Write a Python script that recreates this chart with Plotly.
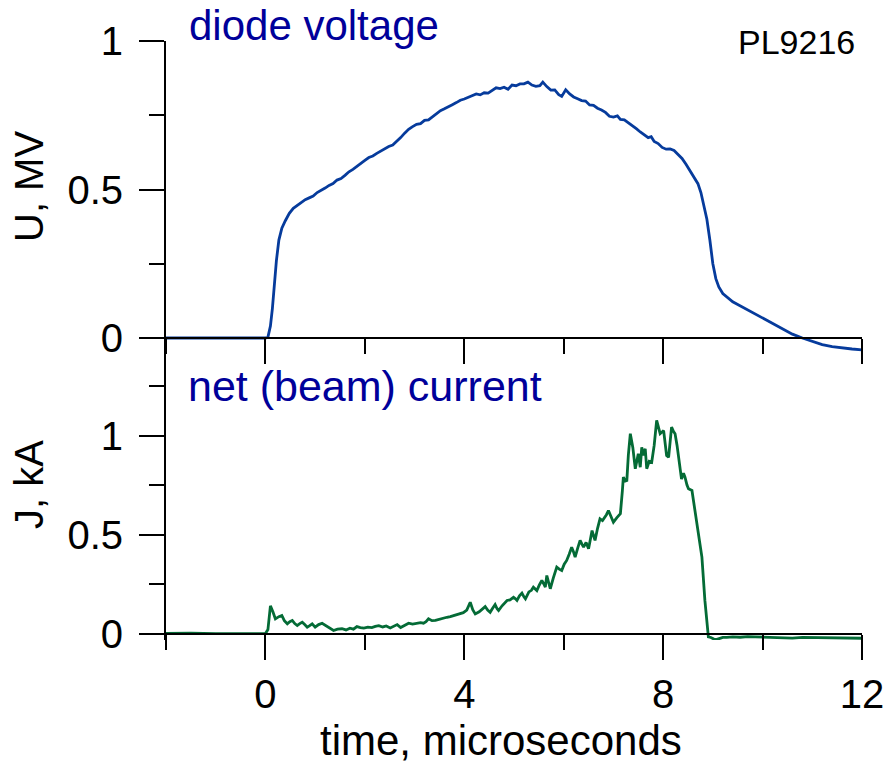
import plotly.graph_objects as go

# ---- data ----
t_u = [-2.0, -1.0, 0.0, 0.05, 0.10, 0.14, 0.18, 0.22, 0.27, 0.33, 0.40, 0.48, 0.56, 0.64, 0.72,
       0.80, 0.88, 0.96, 1.04, 1.12, 1.20, 1.28, 1.36, 1.44, 1.52, 1.60, 1.68, 1.76, 1.84, 1.92,
       2.00, 2.08, 2.16, 2.24, 2.32, 2.40, 2.48, 2.56, 2.64, 2.72, 2.80, 2.88, 2.96, 3.04, 3.12,
       3.20, 3.28, 3.36, 3.44, 3.52, 3.60, 3.68, 3.76, 3.84, 3.92, 4.00, 4.08, 4.16, 4.24, 4.32,
       4.40, 4.48, 4.56, 4.64, 4.72, 4.80, 4.88, 4.96, 5.04, 5.12, 5.20, 5.28, 5.36, 5.44, 5.52,
       5.58, 5.66, 5.74, 5.82, 5.90, 5.96, 6.04, 6.12, 6.20, 6.28, 6.36, 6.44, 6.52, 6.60, 6.68,
       6.76, 6.84, 6.92, 7.00, 7.08, 7.14, 7.22, 7.30, 7.38, 7.46, 7.54, 7.62, 7.70, 7.76, 7.82,
       7.90, 7.98, 8.06, 8.14, 8.22, 8.30, 8.38, 8.46, 8.54, 8.62, 8.70, 8.76, 8.82, 8.88, 8.94,
       9.00, 9.06, 9.12, 9.20, 9.30, 9.40, 9.50, 9.60, 9.75, 9.90, 10.05, 10.20, 10.40, 10.60,
       10.80, 11.00, 11.20, 11.40, 11.60, 11.80, 12.00]
u_mv = [0.0, 0.0, 0.0, 0.003, 0.04, 0.10, 0.18, 0.26, 0.33, 0.37, 0.395, 0.42, 0.437, 0.447, 0.455,
        0.466, 0.472, 0.478, 0.490, 0.497, 0.505, 0.514, 0.520, 0.532, 0.537, 0.548, 0.560, 0.568, 0.579, 0.590,
        0.598, 0.608, 0.613, 0.622, 0.630, 0.638, 0.645, 0.650, 0.662, 0.675, 0.690, 0.703, 0.712, 0.720, 0.722,
        0.733, 0.735, 0.745, 0.757, 0.766, 0.772, 0.780, 0.786, 0.793, 0.801, 0.805, 0.811, 0.815, 0.822, 0.819,
        0.826, 0.825, 0.834, 0.843, 0.840, 0.845, 0.838, 0.852, 0.850, 0.856, 0.856, 0.862, 0.852, 0.848, 0.850,
        0.862, 0.847, 0.835, 0.836, 0.820, 0.814, 0.836, 0.822, 0.812, 0.806, 0.800, 0.798, 0.785, 0.784, 0.774,
        0.768, 0.760, 0.747, 0.744, 0.748, 0.736, 0.735, 0.726, 0.716, 0.705, 0.694, 0.684, 0.675, 0.678, 0.662,
        0.655, 0.642, 0.636, 0.637, 0.632, 0.620, 0.605, 0.585, 0.562, 0.542, 0.520, 0.490, 0.450, 0.400, 0.330,
        0.250, 0.200, 0.172, 0.150, 0.135, 0.122, 0.113, 0.104, 0.090, 0.075, 0.062, 0.048, 0.030, 0.013,
        0.000, -0.012, -0.022, -0.029, -0.034, -0.037, -0.040]

t_j = [-2.0, -1.5, -1.0, -0.5, 0.0, 0.05, 0.10, 0.15, 0.20, 0.27, 0.33, 0.38, 0.44, 0.49, 0.54,
       0.59, 0.64, 0.69, 0.74, 0.79, 0.84, 0.89, 0.94, 1.00, 1.07, 1.14, 1.22, 1.30, 1.37, 1.45,
       1.54, 1.62, 1.70, 1.77, 1.84, 1.91, 1.98, 2.06, 2.14, 2.21, 2.28, 2.36, 2.43, 2.51, 2.58,
       2.65, 2.72, 2.80, 2.88, 2.96, 3.05, 3.12, 3.18, 3.23, 3.28, 3.35, 3.42, 3.50, 3.58, 3.65,
       3.72, 3.80, 3.86, 3.92, 3.98, 4.05, 4.12, 4.17, 4.22, 4.30, 4.36, 4.42, 4.47, 4.52, 4.57,
       4.62, 4.66, 4.69, 4.76, 4.86, 4.92, 4.99, 5.03, 5.06, 5.11, 5.16, 5.20, 5.23, 5.30, 5.35,
       5.39, 5.43, 5.46, 5.51, 5.56, 5.60, 5.63, 5.66, 5.70, 5.73, 5.79, 5.86, 5.91, 5.96, 6.01,
       6.06, 6.11, 6.16, 6.20, 6.23, 6.28, 6.33, 6.37, 6.40, 6.45, 6.50, 6.54, 6.57, 6.60, 6.63,
       6.68, 6.73, 6.78, 6.83, 6.86, 6.90, 6.95, 7.00, 7.07, 7.14, 7.18, 7.20, 7.24, 7.27, 7.30,
       7.34, 7.39, 7.44, 7.47, 7.50, 7.54, 7.57, 7.60, 7.64, 7.67, 7.72, 7.77, 7.82, 7.87, 7.90,
       7.94, 8.01, 8.07, 8.11, 8.17, 8.21, 8.24, 8.28, 8.31, 8.34, 8.37, 8.41, 8.44, 8.48, 8.51,
       8.58, 8.63, 8.68, 8.73, 8.78, 8.84, 8.88, 8.91, 8.96, 9.02, 9.08, 9.14, 9.20, 9.28, 9.40,
       9.55, 9.70, 9.85, 10.0, 10.2, 10.4, 10.6, 10.8, 11.0, 11.2, 11.4, 11.6, 11.8, 12.0]
j_ka = [0.0, 0.002, -0.001, 0.001, 0.0, 0.02, 0.14, 0.11, 0.074, 0.085, 0.091, 0.065, 0.049, 0.06, 0.066,
        0.05, 0.04, 0.05, 0.057, 0.045, 0.032, 0.04, 0.049, 0.032, 0.045, 0.052, 0.04, 0.025, 0.015, 0.022,
        0.024, 0.018, 0.027, 0.022, 0.035, 0.03, 0.027, 0.032, 0.03, 0.036, 0.04, 0.033, 0.038, 0.028, 0.035,
        0.045, 0.03, 0.04, 0.052, 0.047, 0.05, 0.055, 0.052, 0.06, 0.074, 0.065, 0.066, 0.072, 0.08, 0.082,
        0.085, 0.09, 0.095, 0.099, 0.105, 0.118, 0.158, 0.12, 0.099, 0.11, 0.122, 0.136, 0.118, 0.107, 0.128,
        0.146, 0.125, 0.116, 0.14, 0.167, 0.17, 0.183, 0.175, 0.167, 0.19, 0.204, 0.185, 0.175, 0.21, 0.218,
        0.234, 0.222, 0.217, 0.245, 0.268, 0.25, 0.234, 0.293, 0.26, 0.226, 0.28, 0.335, 0.325, 0.318, 0.35,
        0.369, 0.40, 0.436, 0.41, 0.386, 0.43, 0.47, 0.45, 0.436, 0.46, 0.428, 0.48, 0.52, 0.495, 0.47,
        0.53, 0.579, 0.57, 0.587, 0.60, 0.621, 0.59, 0.562, 0.585, 0.605, 0.72, 0.79, 0.77, 0.773, 0.90,
        1.009, 0.94, 0.832, 0.87, 0.908, 0.84, 0.94, 0.90, 0.933, 0.832, 0.87, 0.865, 0.95, 1.076, 1.04,
        1.009, 1.025, 0.899, 0.89, 1.042, 1.02, 1.009, 0.95, 0.89, 0.84, 0.78, 0.81, 0.79, 0.75, 0.731,
        0.722, 0.64, 0.537, 0.47, 0.386, 0.167, 0.05, -0.017, -0.02, -0.028, -0.03, -0.025, -0.02, -0.02, -0.017,
        -0.019, -0.016, -0.017, -0.018, -0.022, -0.021, -0.023, -0.02, -0.021, -0.019, -0.021, -0.022, -0.022, -0.024]

x_ticks = [0, 4, 8, 12]
y_ticks = [0, 0.5, 1]

# ---- layout geometry (pixels) ----
W, H = 886, 763
L, R, T, B = 166, 24, 41, 123
plot_h = H - T - B


def py(p):
    return (H - B - p) / plot_h


def px(p):
    return (p - L) / (W - L - R)


FONT = "Liberation Sans, Arial, sans-serif"
BLUE_LINE = "#063b9c"
GREEN_LINE = "#046b36"
TITLE_BLUE = "#00009a"

fig = go.Figure()
fig.add_trace(go.Scatter(x=t_u, y=u_mv, mode="lines", xaxis="x2", yaxis="y2",
                         line=dict(color=BLUE_LINE, width=2.8), showlegend=False))
fig.add_trace(go.Scatter(x=t_j, y=j_ka, mode="lines", xaxis="x", yaxis="y",
                         line=dict(color=GREEN_LINE, width=2.8), showlegend=False))

split = py(353)
axis_common = dict(showgrid=False, zeroline=False, showline=True, linecolor="black", linewidth=2,
                   ticks="outside", tickcolor="black", tickwidth=2, ticklen=25, automargin=False,
                   tickfont=dict(family=FONT, size=40, color="black"))

xcommon = dict(axis_common, range=[-2.0005, 12.0005], tickvals=x_ticks,
               minor=dict(tickvals=[-2, 2, 6, 10], ticks="outside", ticklen=15, tickwidth=2, tickcolor="black"))

fig.update_layout(
    template="none",
    width=W, height=H, autosize=False,
    margin=dict(l=L, r=R, t=T, b=B, pad=0, autoexpand=False),
    paper_bgcolor="white", plot_bgcolor="white",
    xaxis=dict(xcommon, domain=[0, 1], anchor="free", position=py(633.5), ticklabelstandoff=0),
    xaxis2=dict(xcommon, domain=[0, 1], anchor="free", position=py(338), matches="x", showticklabels=False),
    yaxis=dict(axis_common, domain=[0, split], anchor="x", range=[-(640 - 633.5) / 198, (633.5 - 353) / 198],
               tickvals=y_ticks,
               minor=dict(tickvals=[0.25, 0.75, 1.25], ticks="outside", ticklen=15, tickwidth=2, tickcolor="black"),
               ticklabelstandoff=8),
    yaxis2=dict(axis_common, domain=[split, 1], anchor="x2", range=[-(353 - 338) / 297, 1.0005],
                tickvals=y_ticks,
                minor=dict(tickvals=[0.25, 0.75], ticks="outside", ticklen=15, tickwidth=2, tickcolor="black"),
                ticklabelstandoff=8),
)

ann = [
    dict(text="diode voltage", x=px(187), y=py(25), xanchor="left", yanchor="middle",
         font=dict(family=FONT, size=42, color=TITLE_BLUE)),
    dict(text="net (beam) current", x=px(186), y=py(386), xanchor="left", yanchor="middle",
         font=dict(family=FONT, size=43, color=TITLE_BLUE)),
    dict(text="PL9216", x=px(857), y=py(41.5), xanchor="right", yanchor="middle",
         font=dict(family=FONT, size=34, color="black")),
    dict(text="time, microseconds", x=px(500.5), y=py(740), xanchor="center", yanchor="middle",
         font=dict(family=FONT, size=42, color="black")),
    dict(text="U, MV", x=px(29), y=py(187), xanchor="center", yanchor="middle", textangle=-90,
         font=dict(family=FONT, size=40, color="black")),
    dict(text="J, kA", x=px(29), y=py(485), xanchor="center", yanchor="middle", textangle=-90,
         font=dict(family=FONT, size=40, color="black")),
]
for a in ann:
    a.update(xref="paper", yref="paper", showarrow=False)
fig.update_layout(annotations=ann)

fig.write_html("out.html")
